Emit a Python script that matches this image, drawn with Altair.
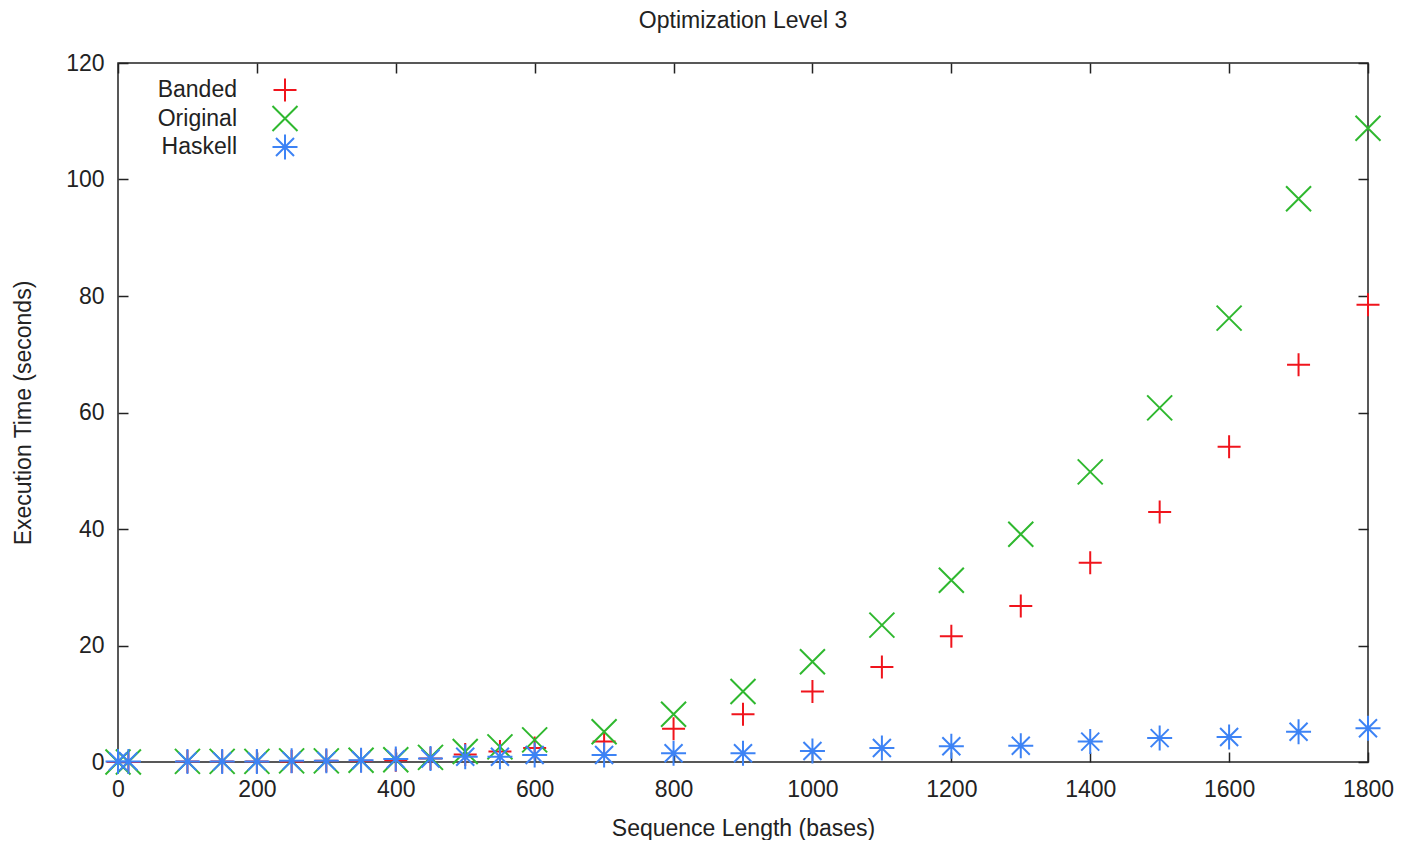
import altair as alt
import pandas as pd

# ---- data ----
lengths = [0, 15, 100, 150, 200, 250, 300, 350, 400, 450, 500, 550, 600,
           700, 800, 900, 1000, 1100, 1200, 1300, 1400, 1500, 1600, 1700, 1800]
banded = [0.0, 0.0, 0.1, 0.1, 0.1, 0.1, 0.2, 0.2, 0.3, 0.6, 1.3, 1.8, 2.4,
          3.5, 5.7, 8.2, 12.1, 16.3, 21.6, 26.8, 34.2, 42.9, 54.1, 68.2, 78.5]
original = [0.0, 0.0, 0.1, 0.1, 0.1, 0.2, 0.2, 0.3, 0.4, 0.8, 1.8, 2.6, 3.8,
            5.2, 8.2, 12.1, 17.2, 23.5, 31.2, 39.1, 49.8, 60.8, 76.2, 96.7, 108.8]
haskell = [0.1, 0.1, 0.1, 0.1, 0.1, 0.2, 0.2, 0.3, 0.5, 0.6, 0.9, 0.9, 1.2,
           1.2, 1.5, 1.5, 1.9, 2.4, 2.7, 2.8, 3.5, 4.1, 4.3, 5.2, 5.8]

series_names = ["Banded", "Original", "Haskell"]
series_colors = ["#f0141c", "#2fb82f", "#3d83f5"]
series_shapes = [
    "M-0.92,0H0.92M0,-0.92V0.92",
    "M-1,-1L1,1M-1,1L1,-1",
    "M-1,0H1M0,-1V1M-0.72,-0.72L0.72,0.72M-0.72,0.72L0.72,-0.72",
]
x_ticks = [0, 200, 400, 600, 800, 1000, 1200, 1400, 1600, 1800]
y_ticks = [0, 20, 40, 60, 80, 100, 120]

rows = []
for name, vals in zip(series_names, [banded, original, haskell]):
    for x, y in zip(lengths, vals):
        rows.append({"length": x, "time": y, "series": name})
df = pd.DataFrame(rows)
legend_df = pd.DataFrame({"series": series_names})

W, H = 1250, 699
TICK = 10
FONT = "Liberation Sans"
FS = 23
TXT = "#222222"
MSIZE = 625

x_scale = alt.Scale(domain=[0, 1800], nice=False, zero=False)
y_scale = alt.Scale(domain=[0, 120], nice=False)
color_scale = alt.Scale(domain=series_names, range=series_colors)
shape_scale = alt.Scale(domain=series_names, range=series_shapes)

points = alt.Chart(df).mark_point(filled=False, size=MSIZE, strokeWidth=2, opacity=1).encode(
    x=alt.X("length:Q", scale=x_scale,
            axis=alt.Axis(title="Sequence Length (bases)", values=x_ticks, orient="bottom",
                          offset=-TICK, tickSize=TICK, domain=False, grid=False,
                          labelFlush=False, labelPadding=16, titlePadding=16, format="d")),
    y=alt.Y("time:Q", scale=y_scale,
            axis=alt.Axis(title="Execution Time (seconds)", values=y_ticks, orient="left",
                          offset=-TICK, tickSize=TICK, domain=False, grid=False,
                          labelFlush=False, labelPadding=14, titlePadding=30, format="d")),
    color=alt.Color("series:N", scale=color_scale, legend=None),
    shape=alt.Shape("series:N", scale=shape_scale, legend=None),
)

mirror = alt.Chart(df).mark_point(size=0, opacity=0).encode(
    x=alt.X("length:Q", scale=x_scale,
            axis=alt.Axis(title=None, values=x_ticks, orient="top", offset=-TICK,
                          tickSize=TICK, domain=False, grid=False, labels=False)),
    y=alt.Y("time:Q", scale=y_scale,
            axis=alt.Axis(title=None, values=y_ticks, orient="right", offset=-TICK,
                          tickSize=TICK, domain=False, grid=False, labels=False)),
)

# gnuplot-style key: right-aligned labels with the symbol to their right
key_y = alt.Y("series:N", scale=alt.Scale(type="point", domain=series_names, range=[27, 84], padding=0),
              axis=None)
key_symbols = alt.Chart(legend_df).mark_point(filled=False, size=MSIZE, strokeWidth=2, opacity=1).encode(
    x=alt.value(167),
    y=key_y,
    color=alt.Color("series:N", scale=color_scale, legend=None),
    shape=alt.Shape("series:N", scale=shape_scale, legend=None),
)
key_labels = alt.Chart(legend_df).mark_text(
    align="right", baseline="middle", font=FONT, fontSize=FS, color=TXT
).encode(
    x=alt.value(119),
    y=key_y,
    text="series:N",
)

chart = alt.layer(points, mirror, key_labels, key_symbols).resolve_scale(
    y="independent"
).resolve_axis(x="independent", y="independent").properties(
    width=W,
    height=H,
    title=alt.TitleParams("Optimization Level 3", font=FONT, fontSize=FS, fontWeight="normal",
                          color=TXT, anchor="middle", offset=19),
    padding={"left": 110, "top": 55, "right": 32, "bottom": 78},
    autosize=alt.AutoSizeParams(type="none"),
).configure_view(
    stroke="#222222", strokeWidth=1.5
).configure_axis(
    labelFont=FONT, labelFontSize=FS, labelColor=TXT,
    titleFont=FONT, titleFontSize=FS, titleFontWeight="normal", titleColor=TXT,
    tickColor="#222222", tickWidth=1.5,
)

chart.save("out.html", embed_options={"renderer": "svg", "actions": False})
